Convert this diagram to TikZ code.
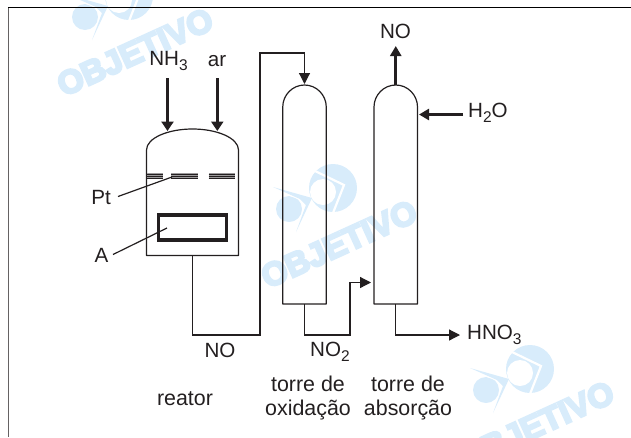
\documentclass[tikz,border=0pt]{standalone}
\usepackage{fontspec}
\setmainfont{Liberation Sans}
\newfontface\wmfont{Liberation Sans Bold}[FakeBold=7]
\usetikzlibrary{arrows.meta}
\definecolor{wm}{HTML}{D8ECFB}
\definecolor{ink}{HTML}{231F20}
\newcommand{\lowidx}[1]{\raisebox{-4.5pt}{\fontsize{15.5}{16}\selectfont #1}}
\tikzset{
  x=1pt,y=-1pt,
  lbl/.style={text=ink,inner sep=0pt,font=\fontsize{20.6}{24}\selectfont,align=center},
  captxt/.style={lbl,font=\fontsize{21.4}{24}\selectfont},
  vessel/.style={draw=none,inner sep=0pt,minimum width=#1,outer sep=0pt},
  wall/.style={draw=ink,line width=1.2pt,line join=round},
  pipe/.style={draw=ink,line width=1.2pt,line join=miter},
  flow/.style={pipe,-{Triangle[length=11pt,width=11pt]}},
  feed/.style={draw=ink,line width=2.9pt,-{Triangle[length=9.5pt,width=12pt]}},
  leader/.style={draw=ink,line width=1.2pt},
  gauze/.style={fill=ink!45,draw=none},
  wmtext/.style={text=wm,inner sep=0pt,font=\fontsize{33}{36}\wmfont,rotate=24.5}
}
\newcommand{\wmark}[3]{%
  \begin{scope}[shift={(#1,#2)}]
    \fill[wm] (0,0) circle[radius=24];
    \fill[white] (-10,4) circle[radius=13];
    \draw[white,line width=2.2pt] (-18,-17) -- (11,-3) -- (0,25);
    \fill[wm] (-44,21) circle[radius=13];
    \fill[white] (-62,1) -- (-21,11) -- (-38,48) -- (-27,14) -- cycle;
    \fill[wm] (-60,-1) -- (-21,10) -- (-37,44) -- (-27,17) -- (-33,11) -- cycle;
    \node[wmtext] (#3) at (6,56) {OBJETIVO};
  \end{scope}}
\begin{document}
\begin{tikzpicture}
\useasboundingbox (0,0) rectangle (631,437);
\begin{scope}
  \clip (0,0) rectangle (631,437);
  \wmark{129}{-4}{wma}
  \wmark{333}{188}{wmb}
  \wmark{530}{369}{wmc}
\end{scope}
% frame
\draw[draw=ink!70,line width=1.3pt] (8.8,437) -- (8.8,7.3);
\draw[draw=black,line width=1.2pt] (8,7.3) -- (631,7.3);

% vessels (bodies)
\node[vessel=92pt,minimum height=105.5pt] (reactor) at (192.5,202.75) {};
\node[vessel=43.5pt,minimum height=197pt] (oxi) at (304.5,205.5) {};
\node[vessel=43.5pt,minimum height=197pt] (abs) at (395.75,205.5) {};
\coordinate (oxitop) at (304.5,85);
\coordinate (abstop) at (395.75,85);

\draw[wall] (reactor.south west) -- (reactor.north west)
  .. controls (146.5,138) and (168,129) .. (192.5,129)
  .. controls (217,129) and (238.5,138) .. (238.5,150)
  -- (reactor.south east) -- cycle;
\draw[wall] (oxi.south west) -- (oxi.north west)
  .. controls (282.75,95) and (292.5,85) .. (oxitop)
  .. controls (316.5,85) and (326.25,95) .. (oxi.north east)
  -- (oxi.south east) -- cycle;
\draw[wall] (abs.south west) -- (abs.north west)
  .. controls (374,95) and (383.75,85) .. (abstop)
  .. controls (407.75,85) and (417.5,95) .. (abs.north east)
  -- (abs.south east) -- cycle;

% Pt gauze
\fill[gauze] (146.5,173.4) rectangle (163,178.6);
\fill[gauze] (171,173.4) rectangle (198,178.6);
\fill[gauze] (208.5,173.4) rectangle (235,178.6);
\foreach \yy in {174,176,178}{
  \draw[draw=ink,line width=0.8pt] (146.5,\yy) -- (163,\yy);
  \draw[draw=ink,line width=0.8pt] (171,\yy) -- (198,\yy);
  \draw[draw=ink,line width=0.8pt] (208.5,\yy) -- (235,\yy);
}
\coordinate (ptend) at (172,177);
% catalyst box
\node[draw=ink,line width=3.1pt,minimum width=67.5pt,minimum height=25pt,inner sep=0pt] (boxA) at (192.3,227.5) {};

% labels
\node[lbl] (nh3) at (168.5,61) {NH\lowidx{3}};
\node[lbl] (ar) at (217,61) {ar};
\node[lbl] (pt) at (101,197) {Pt};
\node[lbl] (a) at (101.5,255.5) {A};
\node[lbl] (no1) at (220,350) {NO};
\node[lbl] (no2) at (330,352) {NO\lowidx{2}};
\node[lbl] (notop) at (395.5,31) {NO};
\node[lbl,anchor=west] (h2o) at (468,113) {H\lowidx{2}O};
\node[lbl,anchor=west] (hno3) at (467,335) {HNO\lowidx{3}};
\node[captxt] (capr) at (185,399) {reator};
\node[captxt] (capo) at (308,398) {torre de\\[-0.5pt]oxidação};
\node[captxt] (capa) at (408,398) {torre de\\[-0.5pt]absorção};

% free ends
\coordinate (nh3s) at (167.5,78);
\coordinate (nh3e) at (167.5,131);
\coordinate (ars) at (217.3,78);
\coordinate (are) at (217.3,131);
\coordinate (cA) at (167,228);

\draw[feed] (nh3s) -- (nh3e);
\draw[feed] (ars) -- (are);
\draw[leader] (118,196.5) -- (ptend);
\draw[leader] (113,254.5) -- (cA);

\draw[flow] (reactor.south) -- (192.5,335) -- (260,335) -- (260,53) -- (304.5,53) -- (304.5,84);
\draw[flow] (oxi.south) -- (304.5,335) -- (350,335) -- (350,282.5) -- (371,282.5);
\draw[flow] (abs.south) -- (395.75,335) -- (460,335);
\draw[draw=ink,line width=2.9pt,-{Triangle[length=10pt,width=11pt]}] (abstop) -- (395.75,46);
\draw[draw=ink,line width=2.9pt,-{Triangle[length=10pt,width=11pt]}] (463,114.5) -- (419,114.5);
\end{tikzpicture}
\end{document}
